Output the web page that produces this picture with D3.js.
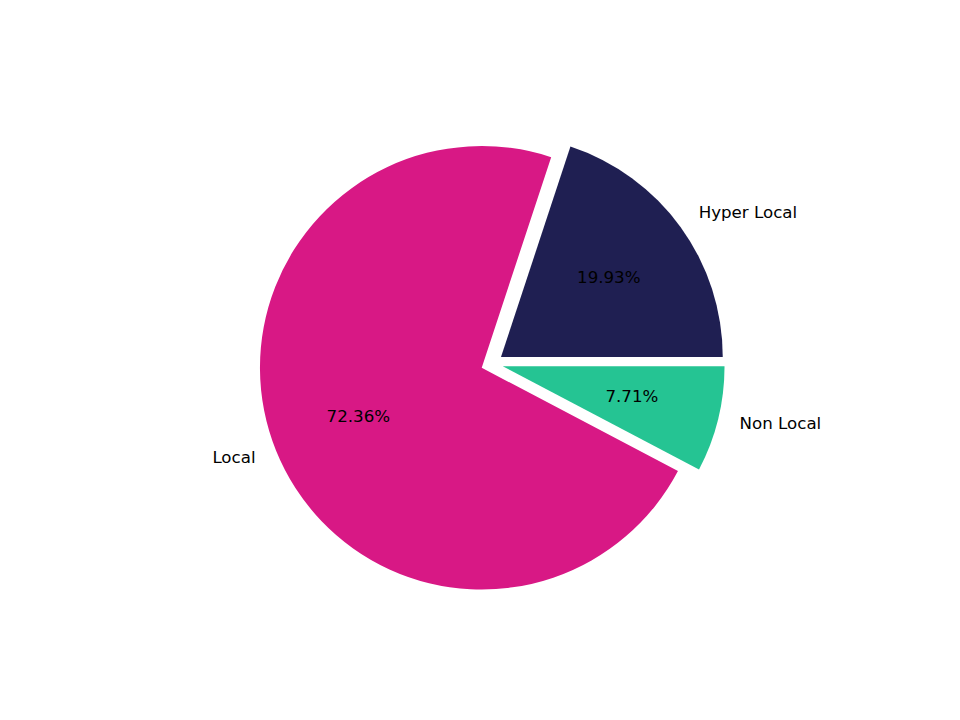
<!DOCTYPE html>
<html>
<head>
<meta charset="utf-8">
<script src="https://cdn.jsdelivr.net/npm/d3@7"></script>
<style>
  body { margin: 0; background: #fff; }
  svg text { font-family: "DejaVu Sans", sans-serif; font-size: 16.67px; fill: #000; }
</style>
</head>
<body>
<svg id="chart" width="960" height="720"></svg>
<script>
const categories = ["Hyper Local", "Local", "Non Local"];
const values = [19.93, 72.36, 7.71];
const colors = ["#1f1f52", "#d81885", "#25c493"];
const explode = [0.05, 0.05, 0.05];

const W = 960, H = 720;
const axW = 0.775 * W, axH = 0.77 * H;
const cx = 0.125 * W + axW / 2;
const cy = H - (0.11 * H + axH / 2);
const r = Math.min(axW, axH) / 2.5;

const svg = d3.select("#chart");
const data = categories.map((c, i) => ({ name: c, value: values[i], color: colors[i], explode: explode[i] }));

const pie = d3.pie().value(d => d.value).sort(null)
  .startAngle(Math.PI / 2).endAngle(Math.PI / 2 - 2 * Math.PI);
const arcs = pie(data);
const arc = d3.arc().innerRadius(0).outerRadius(r);
const total = d3.sum(values);

const g = svg.append("g").attr("transform", `translate(${cx},${cy})`);

arcs.forEach(a => {
  const mid = (a.startAngle + a.endAngle) / 2;
  const ux = Math.sin(mid), uy = -Math.cos(mid);
  const off = a.data.explode * r;
  const ox = ux * off, oy = uy * off;
  const sg = g.append("g").attr("transform", `translate(${ox},${oy})`);
  sg.append("path").attr("d", arc(a)).attr("fill", a.data.color);
  sg.append("text")
    .attr("x", ux * r * 1.1).attr("y", uy * r * 1.1 - 1.5)
    .attr("text-anchor", ux > 0 ? "start" : "end")
    .attr("dominant-baseline", "central")
    .text(a.data.name);
  sg.append("text")
    .attr("x", ux * r * 0.6).attr("y", uy * r * 0.6 - 1.5)
    .attr("text-anchor", "middle")
    .attr("dominant-baseline", "central")
    .text((a.data.value / total * 100).toFixed(2) + "%");
});
</script>
</body>
</html>
